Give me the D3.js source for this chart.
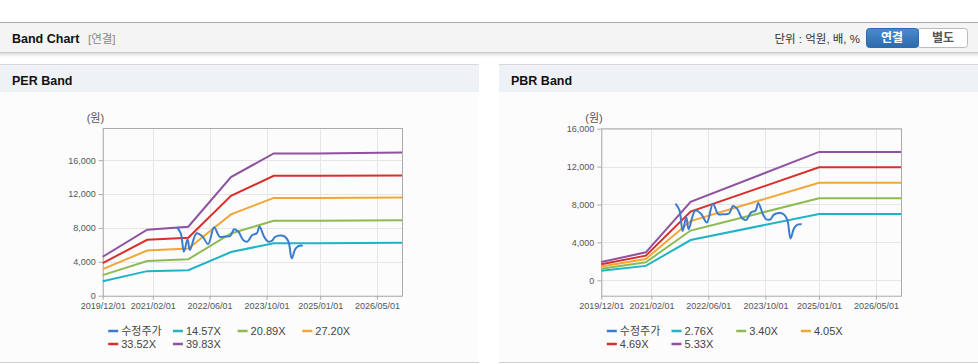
<!DOCTYPE html>
<html>
<head>
<meta charset="utf-8">
<script src="https://cdn.jsdelivr.net/npm/d3@7"></script>
<style>
  body { margin: 0; background: #fff; font-family: "Liberation Sans", Arial, "Noto Sans CJK KR", sans-serif; }
  .axis text { font-size: 9px; fill: #555; }
  .axis line { stroke: #aaa; }
  .axis path { display: none; }
</style>
</head>
<body>
<svg id="chart" width="978" height="364"></svg>
<script>
// data
var xTickLabels = ["2019/12/01", "2021/02/01", "2022/06/01", "2023/10/01", "2025/01/01", "2026/05/01"];
var yTicks = [0, 4000, 8000, 12000, 16000];

var perNames = ["14.57X", "20.89X", "27.20X", "33.52X", "39.83X"];
var pbrNames = ["2.76X", "3.40X", "4.05X", "4.69X", "5.33X"];

// PER band breakpoints
var perDates = ["2019/12/01", "2020/12/15", "2021/12/01", "2022/12/01", "2023/12/01", "2024/12/01", "2026/12/01"];
var per1457 = [1700, 2900, 3000, 5150, 6200, 6200, 6250];
var per2089 = [2430, 4100, 4300, 7350, 8850, 8850, 8900];
var per2720 = [3130, 5330, 5560, 9600, 11550, 11550, 11600];
var per3352 = [3850, 6600, 6850, 11800, 14150, 14150, 14200];
var per3983 = [4600, 7800, 8150, 14000, 16800, 16800, 16900];

// PBR band breakpoints
var pbrDates = ["2019/12/01", "2020/12/15", "2022/01/01", "2025/01/01", "2026/12/01"];
var pbr276 = [1000, 1520, 4250, 7000, 7000];
var pbr340 = [1230, 1900, 5250, 8650, 8650];
var pbr405 = [1460, 2250, 6250, 10300, 10300];
var pbr469 = [1690, 2600, 7250, 11930, 11930];
var pbr533 = [1930, 2950, 8270, 13550, 13550];

// adjusted price (수정주가)
var priceDates = ["2021/08/25", "2021/09/28", "2021/10/25", "2021/11/25", "2021/12/15", "2022/02/10",
  "2022/04/01", "2022/05/20", "2022/07/10", "2022/08/25", "2022/10/10", "2022/11/25", "2022/12/28",
  "2023/02/01", "2023/03/15", "2023/04/20", "2023/06/01", "2023/07/10", "2023/08/01", "2023/09/10",
  "2023/10/10", "2023/11/15", "2023/12/12", "2024/01/25", "2024/03/05", "2024/04/05", "2024/05/03",
  "2024/06/01", "2024/07/01", "2024/08/05"];
var priceValues = [8080, 7370, 5200, 6660, 5400, 7370,
  7000, 6100, 8080, 6980, 6980, 7050, 7840,
  7570, 6580, 6380, 7170, 7370, 8160, 6970,
  6420, 6460, 6930, 7100, 6970, 6380, 4410,
  5480, 5870, 5910];

var priceColor = "#3b7ccc";
var bandColors = ["#1fb3c6", "#8dbb52", "#f2a636", "#d5312a", "#8f52a0"];

var parse = d3.timeParse("%Y/%m/%d");
var svg = d3.select("#chart");

// page header
svg.append("rect").attr("x", 0).attr("y", 22).attr("width", 978).attr("height", 30).attr("fill", "#f4f4f4");
svg.append("line").attr("x1", 0).attr("x2", 978).attr("y1", 22.5).attr("y2", 22.5).attr("stroke", "#aaa");
svg.append("line").attr("x1", 0).attr("x2", 978).attr("y1", 52.5).attr("y2", 52.5).attr("stroke", "#c8c8c8");
var defs = svg.append("defs");
var sh = defs.append("linearGradient").attr("id", "shadow").attr("x1", 0).attr("x2", 0).attr("y1", 0).attr("y2", 1);
sh.append("stop").attr("offset", 0).attr("stop-color", "#dcdcdc");
sh.append("stop").attr("offset", 1).attr("stop-color", "#fff");
svg.append("rect").attr("x", 0).attr("y", 53).attr("width", 978).attr("height", 4).attr("fill", "url(#shadow)");

svg.append("text").attr("x", 12).attr("y", 43).style("font-size", "12.5px").style("font-weight", "bold")
  .attr("fill", "#111").text("Band Chart");
svg.append("text").attr("x", 88).attr("y", 43).style("font-size", "11.5px").attr("fill", "#888").text("[연결]");
svg.append("text").attr("x", 860).attr("y", 43).attr("text-anchor", "end").style("font-size", "11.5px")
  .attr("fill", "#333").text("단위 : 억원, 배, %");

var bg = defs.append("linearGradient").attr("id", "btn").attr("x1", 0).attr("x2", 0).attr("y1", 0).attr("y2", 1);
bg.append("stop").attr("offset", 0).attr("stop-color", "#4a8bd0");
bg.append("stop").attr("offset", 1).attr("stop-color", "#2c69ad");
svg.append("rect").attr("x", 917.5).attr("y", 28.5).attr("width", 50).attr("height", 19).attr("rx", 3)
  .attr("fill", "#fff").attr("stroke", "#bbb");
svg.append("rect").attr("x", 866.5).attr("y", 28.5).attr("width", 52).attr("height", 19).attr("rx", 3)
  .attr("fill", "url(#btn)").attr("stroke", "#2c69ad");
svg.append("text").attr("x", 892).attr("y", 42).attr("text-anchor", "middle").style("font-size", "12px")
  .style("font-weight", "bold").attr("fill", "#fff").text("연결");
svg.append("text").attr("x", 943).attr("y", 42).attr("text-anchor", "middle").style("font-size", "12px")
  .style("font-weight", "bold").attr("fill", "#555").text("별도");

function drawPanel(px, title, plot, yDomain, dates, bands, names) {
  var pw = 479;
  svg.append("rect").attr("x", px).attr("y", 64).attr("width", pw).attr("height", 299).attr("fill", "#fcfcfc");
  svg.append("rect").attr("x", px).attr("y", 65).attr("width", pw).attr("height", 27).attr("fill", "#eef2f7");
  svg.append("line").attr("x1", px).attr("x2", px + pw).attr("y1", 64.5).attr("y2", 64.5).attr("stroke", "#d8d8d8");
  svg.append("line").attr("x1", px).attr("x2", px + pw).attr("y1", 362.5).attr("y2", 362.5).attr("stroke", "#d0d0d0");
  svg.append("text").attr("x", px + 12).attr("y", 85).style("font-size", "12.5px").style("font-weight", "bold")
    .attr("fill", "#111").text(title);

  var x = d3.scaleTime()
    .domain([parse("2019/12/01"), parse("2026/12/01")])
    .range([plot.left, plot.right]);
  var y = d3.scaleLinear()
    .domain(yDomain)
    .range([plot.bottom, plot.top]);

  var g = svg.append("g");

  // grid
  g.selectAll(".vg").data(xTickLabels.map(parse)).enter().append("line")
    .attr("x1", function (d) { return Math.round(x(d)) + 0.5; })
    .attr("x2", function (d) { return Math.round(x(d)) + 0.5; })
    .attr("y1", plot.top).attr("y2", plot.bottom)
    .attr("stroke", "#e6e6e6");
  g.selectAll(".hg").data(yTicks).enter().append("line")
    .attr("x1", plot.left).attr("x2", plot.right)
    .attr("y1", function (d) { return Math.round(y(d)) + 0.5; })
    .attr("y2", function (d) { return Math.round(y(d)) + 0.5; })
    .attr("stroke", "#e6e6e6");

  g.append("g").attr("class", "axis")
    .attr("transform", "translate(0," + plot.bottom + ")")
    .call(d3.axisBottom(x).tickValues(xTickLabels.map(parse))
      .tickFormat(d3.timeFormat("%Y/%m/%d")).tickSize(4).tickPadding(3));
  g.append("g").attr("class", "axis")
    .attr("transform", "translate(" + plot.left + ",0)")
    .call(d3.axisLeft(y).tickValues(yTicks).tickFormat(d3.format(",")).tickSize(4).tickPadding(3));

  g.append("rect").attr("x", plot.left + 0.5).attr("y", plot.top + 0.5)
    .attr("width", plot.right - plot.left).attr("height", plot.bottom - plot.top)
    .attr("fill", "none").attr("stroke", "#aaa");

  g.append("text").attr("x", plot.left - 16).attr("y", plot.top - 6)
    .style("font-size", "11px").attr("fill", "#555").text("(원)");

  var line = d3.line()
    .x(function (d) { return x(d[0]); })
    .y(function (d) { return y(d[1]); });

  bands.forEach(function (vals, i) {
    g.append("path")
      .datum(dates.map(function (d, j) { return [parse(d), vals[j]]; }))
      .attr("d", line)
      .attr("fill", "none")
      .attr("stroke", bandColors[i])
      .attr("stroke-width", 2);
  });

  g.append("path")
    .datum(priceDates.map(function (d, j) { return [parse(d), priceValues[j]]; }))
    .attr("d", line.curve(d3.curveCatmullRom.alpha(0.5)))
    .attr("fill", "none")
    .attr("stroke", priceColor)
    .attr("stroke-width", 2);

  // legend
  var items = [{ name: "수정주가", color: priceColor }].concat(names.map(function (n, i) {
    return { name: n, color: bandColors[i] };
  }));
  var lg = g.selectAll(".leg").data(items).enter().append("g")
    .attr("transform", function (d, i) {
      return "translate(" + (plot.left + 5.5 + (i % 4) * 64.7) + "," + (331 + Math.floor(i / 4) * 13) + ")";
    });
  lg.append("line").attr("x1", 0).attr("x2", 10).attr("y1", 0).attr("y2", 0)
    .attr("stroke", function (d) { return d.color; }).attr("stroke-width", 2.5);
  lg.append("text").attr("x", 13).attr("y", 4).style("font-size", "11px").attr("fill", "#444")
    .text(function (d) { return d.name; });
}

drawPanel(0, "PER Band", { left: 102.7, right: 402, top: 128, bottom: 295.7 }, [0, 19800],
  perDates, [per1457, per2089, per2720, per3352, per3983], perNames);
drawPanel(499, "PBR Band", { left: 601.3, right: 901, top: 128.3, bottom: 295.7 }, [-1625, 16040],
  pbrDates, [pbr276, pbr340, pbr405, pbr469, pbr533], pbrNames);
</script>
</body>
</html>
